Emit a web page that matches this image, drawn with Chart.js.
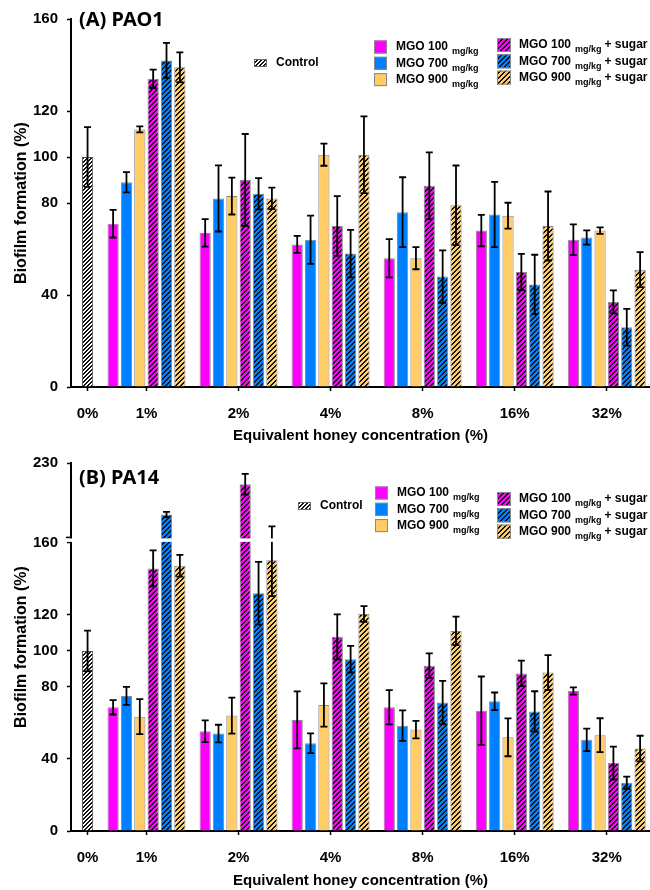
<!DOCTYPE html>
<html>
<head>
<meta charset="utf-8">
<title>Biofilm formation</title>
<script src="https://cdn.jsdelivr.net/npm/chart.js@4.4.1/dist/chart.umd.min.js"></script>
<style>
  body { margin: 0; background: #fff; }
  .panel { position: absolute; left: 0; width: 650px; height: 445px; }
  #panelA { top: 0; }
  #panelB { top: 445px; }
</style>
</head>
<body>
<div class="panel" id="panelA"><canvas id="chart-a" width="650" height="445"></canvas></div>
<div class="panel" id="panelB"><canvas id="chart-b" width="650" height="445"></canvas></div>
<script>
// ---------- data ----------
var categories = ["0%", "1%", "2%", "4%", "8%", "16%", "32%"];
var levels = ["100", "700", "900"];
var yTicksA = [0, 40, 80, 100, 120, 160];
var yTicksB = [0, 40, 80, 100, 120, 160, 230];

// (A) PAO1  - groups 1%..32%
var controlA = 100, controlErrA = 13;
var mgo100A = [71, 67, 62, 56, 68, 64];
var mgo700A = [89, 82, 64, 76, 75, 65];
var mgo900A = [112, 83, 101, 56, 74.5, 68];
var mgo100SugarA = [134, 90, 70, 87.5, 50, 37];
var mgo700SugarA = [142, 84, 58, 48, 44.6, 26];
var mgo900SugarA = [139, 82, 101, 79, 70, 51];
var mgo100ErrA = [6, 6, 3.7, 8.3, 6.8, 6.7];
var mgo700ErrA = [4.4, 14.4, 10.5, 15.2, 14.2, 3.1];
var mgo900ErrA = [1.3, 8, 4.8, 4.8, 5.6, 1.4];
var mgo100SugarErrA = [4, 20, 13, 14.5, 7.9, 5];
var mgo700SugarErrA = [7.6, 6.8, 10.3, 11.4, 12.9, 8];
var mgo900SugarErrA = [6.5, 4.7, 16.7, 17.3, 15, 7.6];

// (B) PA14
var controlB = 100, controlErrB = 11.3;
var mgo100B = [68.7, 55.4, 61.7, 68.7, 66.8, 77.7];
var mgo700B = [75, 54.1, 48.7, 58.5, 72, 50.6];
var mgo900B = [63.5, 64.1, 70, 56.3, 52, 53.2];
var mgo100SugarB = [145.8, 210, 107.8, 91.8, 87.5, 37.7];
var mgo700SugarB = [181.5, 132, 95.4, 71.4, 66.4, 26.8];
var mgo900SugarB = [147.3, 150.4, 120.5, 111.1, 88, 45.8];
var mgo100ErrB = [4, 6, 15.8, 9.5, 19, 2];
var mgo700ErrB = [5, 4.9, 5.5, 8.5, 4.9, 6.3];
var mgo900ErrB = [9.7, 10, 12, 4.9, 10.5, 9.4];
var mgo100SugarErrB = [10, 9.7, 12.5, 6.8, 7.1, 9.1];
var mgo700SugarErrB = [2.5, 17.4, 7.4, 12, 11.2, 3.4];
var mgo900SugarErrB = [6, 20, 4.4, 7.9, 9.7, 7.1];

// ---------- layout ----------
var colors = ["#FF00FF", "#0080FF", "#FFCC66"];
var FONT = '"Liberation Sans", Arial, sans-serif';
var CONTROL_OFFSET = 0.64;   // control bar sits closer to the 1% group
var GROUP_SPAN = 0.87;       // width of a 6 bar group in axis units
var xPos = categories.map(function (c, i) { return i === 0 ? 1 - CONTROL_OFFSET : i; });

// broken y axis for panel B (0-160 below, 160-230 squeezed above)
var BREAK_AT = 160, LOWER_FRAC = 0.783, GAP_FRAC = 0.0148;

class BrokenScale extends Chart.LinearScale {
  getPixelForValue(value) {
    if (value === null || value === undefined || isNaN(value)) return NaN;
    var d;
    if (value <= BREAK_AT) {
      d = (value - this.min) / (BREAK_AT - this.min) * LOWER_FRAC;
    } else {
      d = LOWER_FRAC + GAP_FRAC + (value - BREAK_AT) / (this.max - BREAK_AT) * (1 - LOWER_FRAC - GAP_FRAC);
    }
    return this.getPixelForDecimal(d);
  }
  getValueForPixel(pixel) {
    var d = this.getDecimalForPixel(pixel);
    if (d <= LOWER_FRAC) return this.min + d / LOWER_FRAC * (BREAK_AT - this.min);
    return BREAK_AT + (d - LOWER_FRAC - GAP_FRAC) / (1 - LOWER_FRAC - GAP_FRAC) * (this.max - BREAK_AT);
  }
}
BrokenScale.id = "broken";
BrokenScale.defaults = {};
Chart.register(BrokenScale);

// crisp "/" hatch, built pixel by pixel so it doesn't blur
function hatch(color, s, dark) {
  var c = document.createElement("canvas");
  c.width = s; c.height = s;
  var g = c.getContext("2d");
  g.fillStyle = color;
  g.fillRect(0, 0, s, s);
  g.fillStyle = "#141414";
  for (var px = 0; px < s; px++) {
    for (var py = 0; py < s; py++) {
      if ((px + py) % s < dark) g.fillRect(px, py, 1, 1);
    }
  }
  return g.createPattern(c, "repeat");
}
var solidFill = colors;
var hatchFill = colors.map(function (c) { return hatch(c, 5, 2); });
var controlFill = hatch("#ffffff", 4, 2);

function pad(arr) { return [null].concat(arr); }

function buildDatasets(control, controlErr, solid, solidErr, sugar, sugarErr) {
  var common = {
    borderColor: "#8a8a8a",
    borderWidth: 1,
    skipNull: true,
    barPercentage: 0.84,
    categoryPercentage: GROUP_SPAN / CONTROL_OFFSET,
    maxBarThickness: 11.2
  };
  var sets = [];
  sets.push(Object.assign({}, common, {
    label: "Control",
    data: [control, null, null, null, null, null, null],
    errors: [controlErr, null, null, null, null, null, null],
    backgroundColor: controlFill,
    borderColor: "#555"
  }));
  for (var k = 0; k < 3; k++) {
    sets.push(Object.assign({}, common, {
      label: "MGO " + levels[k] + " mg/kg",
      data: pad(solid[k]), errors: pad(solidErr[k]),
      backgroundColor: solidFill[k]
    }));
  }
  for (var k2 = 0; k2 < 3; k2++) {
    sets.push(Object.assign({}, common, {
      label: "MGO " + levels[k2] + " mg/kg + sugar",
      data: pad(sugar[k2]), errors: pad(sugarErr[k2]),
      backgroundColor: hatchFill[k2]
    }));
  }
  return sets;
}

// error bars + axis break, drawn over the bars
var errorBars = {
  id: "errorBars",
  afterDatasetsDraw: function (chart) {
    var ctx = chart.ctx, y = chart.scales.y;
    ctx.save();
    ctx.strokeStyle = "#000";
    ctx.lineWidth = 1.8;
    chart.data.datasets.forEach(function (ds, i) {
      var meta = chart.getDatasetMeta(i);
      meta.data.forEach(function (bar, j) {
        var v = ds.data[j], e = ds.errors[j];
        if (v === null || e === null) return;
        var top = y.getPixelForValue(v + e), bot = y.getPixelForValue(v - e);
        ctx.beginPath();
        ctx.moveTo(bar.x, top); ctx.lineTo(bar.x, bot);
        ctx.moveTo(bar.x - 3.5, top); ctx.lineTo(bar.x + 3.5, top);
        ctx.moveTo(bar.x - 3.5, bot); ctx.lineTo(bar.x + 3.5, bot);
        ctx.stroke();
      });
    });
    if (y.type === "broken") {
      var lo = y.getPixelForValue(BREAK_AT);
      var hi = y.getPixelForDecimal(LOWER_FRAC + GAP_FRAC);
      ctx.fillStyle = "#fff";
      ctx.fillRect(y.right - 4, hi + 1, chart.chartArea.right - y.right + 4, lo - hi - 2);
      ctx.lineWidth = 1.5;
      ctx.beginPath();
      ctx.moveTo(y.right - 5, hi); ctx.lineTo(y.right + 1, hi);
      ctx.stroke();
    }
    ctx.restore();
  }
};

function drawLabel(ctx, x, y, level, sugar) {
  ctx.font = "bold 12px " + FONT;
  var main = "MGO " + level;
  ctx.fillText(main, x, y);
  x += ctx.measureText(main).width + 4;
  ctx.font = "bold 9px " + FONT;
  ctx.fillText("mg/kg", x, y + 5);
  x += ctx.measureText("mg/kg").width + 3;
  if (sugar) {
    ctx.font = "bold 12px " + FONT;
    ctx.fillText("+ sugar", x, y);
  }
}

function legendPlugin(L) {
  return {
    id: "mgoLegend",
    afterDraw: function (chart) {
      var ctx = chart.ctx;
      ctx.save();
      ctx.textBaseline = "middle";
      ctx.textAlign = "left";
      // panel title
      ctx.fillStyle = "#000";
      ctx.font = 'bold 20px "Noto Sans", "Open Sans", sans-serif';
      ctx.fillText(L.title, 79, L.titleY);
      // control
      ctx.fillStyle = controlFill;
      ctx.fillRect(L.cx, L.cy - 4, 13, 8);
      ctx.strokeStyle = "#666";
      ctx.lineWidth = 1;
      ctx.strokeRect(L.cx + 0.5, L.cy - 3.5, 12, 7);
      ctx.fillStyle = "#000";
      ctx.font = "bold 12px " + FONT;
      ctx.fillText("Control", L.cx + 22, L.cy);
      for (var k = 0; k < 3; k++) {
        var ys = L.sy + k * 16.3;
        ctx.fillStyle = solidFill[k];
        ctx.fillRect(L.sx, ys - 6.5, 13, 13);
        ctx.strokeStyle = "#888";
        ctx.strokeRect(L.sx + 0.5, ys - 6, 12, 12);
        ctx.fillStyle = "#000";
        drawLabel(ctx, L.sx + 22, ys, levels[k], false);

        var yh = L.hy + k * 16.3;
        ctx.fillStyle = hatchFill[k];
        ctx.fillRect(L.hx, yh - 7, 14, 14);
        ctx.strokeStyle = "#888";
        ctx.strokeRect(L.hx + 0.5, yh - 6.5, 13, 13);
        ctx.fillStyle = "#000";
        drawLabel(ctx, L.hx + 22, yh, levels[k], true);
      }
      ctx.restore();
    }
  };
}

function makeChart(id, datasets, yCfg, chartBottom, padTop, legend) {
  var ctx = document.getElementById(id).getContext("2d");
  return new Chart(ctx, {
    type: "bar",
    data: { labels: xPos, datasets: datasets },
    options: {
      responsive: false,
      animation: false,
      devicePixelRatio: 1,
      layout: { padding: { top: padTop, right: 0, bottom: 0, left: 0 } },
      plugins: {
        legend: { display: false },
        tooltip: { enabled: false }
      },
      scales: {
        x: {
          type: "linear",
          min: 0.18,
          max: 6.47,
          offset: false,
          afterBuildTicks: function (s) { s.ticks = xPos.map(function (v) { return { value: v }; }); },
          afterFit: function (s) { s.height = 445 - chartBottom; },
          grid: { offset: false, drawOnChartArea: false, drawTicks: true, tickLength: 4, tickColor: "#000", tickWidth: 1.5 },
          border: { color: "#000", width: 2 },
          ticks: {
            autoSkip: false,
            maxRotation: 0,
            padding: 14,
            color: "#000",
            font: { family: FONT, size: 15, weight: "bold" },
            callback: function (v, i) { return categories[i]; }
          },
          title: {
            display: true,
            text: "Equivalent honey concentration (%)",
            color: "#000",
            font: { family: FONT, size: 15, weight: "bold" },
            padding: { top: 0, bottom: 0 }
          }
        },
        y: {
          type: yCfg.type,
          min: 0,
          max: yCfg.max,
          afterBuildTicks: function (s) { s.ticks = yCfg.ticks.map(function (v) { return { value: v }; }); },
          afterFit: function (s) { s.width = 71; },
          grid: { drawOnChartArea: false, drawTicks: true, tickLength: 4, tickColor: "#000", tickWidth: 1.5 },
          border: { color: "#000", width: 2 },
          ticks: {
            padding: 9,
            color: "#000",
            font: { family: FONT, size: 15, weight: "bold" }
          },
          title: {
            display: true,
            text: "Biofilm formation (%)",
            color: "#000",
            font: { family: FONT, size: 16, weight: "bold" },
            padding: { top: 12, bottom: 0 }
          }
        }
      }
    },
    plugins: [errorBars, legendPlugin(legend)]
  });
}

var chartA = makeChart("chart-a",
  buildDatasets(controlA, controlErrA,
    [mgo100A, mgo700A, mgo900A], [mgo100ErrA, mgo700ErrA, mgo900ErrA],
    [mgo100SugarA, mgo700SugarA, mgo900SugarA], [mgo100SugarErrA, mgo700SugarErrA, mgo900SugarErrA]),
  { type: "linear", max: 160, ticks: yTicksA }, 387, 19,
  { title: "(A) PAO1", titleY: 20, cx: 254, cy: 63, sx: 374, sy: 47, hx: 497, hy: 45 });

var chartB = makeChart("chart-b",
  buildDatasets(controlB, controlErrB,
    [mgo100B, mgo700B, mgo900B], [mgo100ErrB, mgo700ErrB, mgo900ErrB],
    [mgo100SugarB, mgo700SugarB, mgo900SugarB], [mgo100SugarErrB, mgo700SugarErrB, mgo900SugarErrB]),
  { type: "broken", max: 230, ticks: yTicksB }, 386, 15,
  { title: "(B) PA14", titleY: 33, cx: 298, cy: 61, sx: 375, sy: 48, hx: 497, hy: 54 });
</script>
</body>
</html>
